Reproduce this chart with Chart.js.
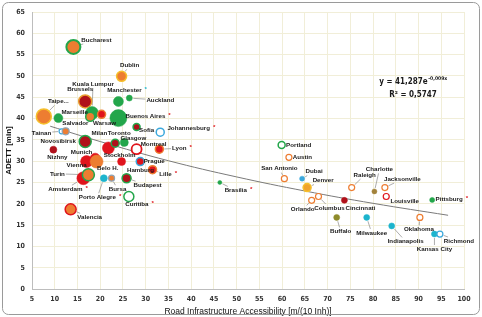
<!DOCTYPE html>
<html>
<head>
<meta charset="utf-8">
<script src="https://cdn.jsdelivr.net/npm/chart.js@4.4.1/dist/chart.umd.min.js"></script>
<style>
  html, body { margin: 0; padding: 0; background: #fff; }
  #wrap { width: 482px; height: 317px; }
</style>
</head>
<body>
<div id="wrap"><canvas id="chart" width="482" height="317"></canvas></div>
<script>
// city bubbles: road accessibility vs ADETT
const cities = ['Bucharest', 'Dublin', 'Brussels', 'Kuala Lumpur', 'Marseille', 'Taipe...', 'Salvador', 'Warsaw',
  'Buenos Aires', 'Manchester', 'Auckland', 'Tainan', '', 'Sofia', 'Johannesburg', 'Novosibirsk', 'Milan',
  'Toronto', 'Glasgow', 'Montreal', 'Lyon', 'Nizhny', 'Munich', 'Belo H.', 'Vienna', 'Stockholm', 'Prague',
  'Hamburg', 'Budapest', 'Porto Alegre', 'Bursa', 'Amsterdam', 'Turin', 'Curitiba', 'Valencia', 'Brasilia',
  'Portland', 'Austin', 'San Antonio', 'Dubai', 'Denver', 'Orlando', 'Columbus', 'Cincinnati', 'Buffalo',
  'Raleigh', 'Charlotte', 'Jacksonville', 'Louisville', 'Pittsburg', 'Milwaukee', 'Indianapolis', 'Oklahoma',
  'Kansas City', 'Richmond'];
const accessibility = [14.1, 24.7, 16.7, 18.2, 17.8, 7.6, 10.8, 20.3,
  24.0, 24.0, 26.4, 11.5, 12.4, 28.0, 33.2, 16.7, 21.8,
  23.3, 25.3, 28.0, 33.0, 9.7, 17.0, 18.9, 19.2, 24.7, 28.8,
  31.5, 25.8, 20.8, 22.5, 16.3, 17.4, 26.3, 13.5, 46.3,
  59.9, 61.5, 60.5, 64.4, 65.5, 66.5, 68.0, 73.7, 72.0,
  75.3, 80.3, 82.6, 82.9, 93.0, 78.6, 84.1, 90.3,
  93.5, 94.7];
const adett = [56.8, 49.9, 44.0, 41.3, 40.4, 40.5, 40.1, 41.0,
  40.1, 44.0, 44.8, 37.0, 37.0, 38.0, 36.8, 34.6, 33.1,
  34.2, 34.4, 32.8, 32.8, 32.7, 29.9, 30.7, 29.9, 29.9, 29.9,
  28.0, 26.0, 26.0, 26.0, 26.0, 26.8, 21.7, 18.7, 25.0,
  33.8, 30.9, 25.9, 25.9, 23.8, 20.8, 21.7, 20.8, 16.8,
  23.8, 22.9, 23.8, 21.7, 20.9, 16.8, 14.8, 16.8,
  12.9, 12.9];
const starred = ['Buenos Aires', 'Johannesburg', 'Lyon', 'Stockholm', 'Lille', 'Amsterdam', 'Porto Alegre',
  'Curitiba', 'Brasilia', 'Pittsburg'];

// exponential trend line
const trendX = [9, 20, 35, 50, 65, 80, 96.5];
const trendY = [38.2, 34.6, 30.1, 26.3, 23.0, 20.1, 17.3];

const xTicks = [5, 10, 15, 20, 25, 30, 35, 40, 45, 50, 55, 60, 65, 70, 75, 80, 85, 90, 95, 100];

const ORANGE = '#ED7D31', GREEN = '#23A64B', DRED = '#B0101A', RED = '#E0141C', TEAL = '#1CB4CD',
  LBLUE = '#3AA8DC', OLIVE = '#8E8B2C', YEL = '#F6C02C', GRAY = '#8EA3B5', WHITE = '#FFFFFF';

const radius = [7, 5, 6.5, 6.5, 4.5, 7.5, 4.5, 4, 8.5, 5, 3, 2.5, 3.5, 3.5, 4, 6, 6, 4, 4, 5, 4, 3.5, 6, 5,
  6.5, 4, 4, 4, 4.5, 3.5, 3, 6.5, 6, 5, 5.5, 2, 3.5, 3, 3, 2.5, 4, 3, 3, 3, 3, 3, 2.5, 3, 3, 2.5, 3, 3, 3, 3, 3];
const fills = [ORANGE, ORANGE, DRED, GREEN, ORANGE, ORANGE, GREEN, RED, GREEN, GREEN, GREEN, WHITE, ORANGE, DRED,
  WHITE, DRED, RED, DRED, GREEN, WHITE, RED, DRED, RED, RED, ORANGE, RED, RED, RED, DRED, TEAL, ORANGE, RED,
  ORANGE, WHITE, ORANGE, GREEN, WHITE, WHITE, WHITE, LBLUE, '#F0A32C', WHITE, WHITE, DRED, OLIVE, WHITE,
  '#A2823A', WHITE, WHITE, GREEN, TEAL, TEAL, WHITE, TEAL, WHITE];
const edges = [GREEN, YEL, '#E89B2E', GREEN, GREEN, YEL, GREEN, ORANGE, GREEN, GREEN, GREEN, LBLUE, GRAY, GREEN,
  LBLUE, GREEN, RED, GREEN, GREEN, RED, ORANGE, DRED, RED, RED, ORANGE, RED, LBLUE, ORANGE, GREEN, TEAL, GRAY, RED,
  GREEN, GREEN, RED, GREEN, GREEN, ORANGE, ORANGE, LBLUE, YEL, ORANGE, ORANGE, DRED, OLIVE, ORANGE,
  '#A2823A', ORANGE, RED, GREEN, TEAL, TEAL, ORANGE, TEAL, LBLUE];
const edgeWidth = [2, 1.5, 1.5, 0.5, 1.5, 1.5, 0.5, 1.5, 0.5, 0.5, 0.5, 1.2, 1.2, 1.5, 1.5, 1.5, 0.5, 1.5, 0.5, 1.8,
  1.5, 0.5, 0.5, 0.5, 0.5, 0.5, 1.5, 1.5, 1.5, 0.5, 1.2, 0.5, 1.5, 1.5, 1.5, 0.5, 1.5, 1.2, 1.2, 0.5, 1.5,
  1.2, 1.2, 0.5, 0.5, 1.2, 0.5, 1.2, 1.2, 0.5, 0.5, 0.5, 1.2, 0.5, 1.2];

// label offsets from each bubble centre [dx, dy, leader line]
const labelSpots = [[23, -7, 1], [8, -11, 1], [-5, -12, 0], [1, -29, 1], [-15.5, -5, 0], [14.5, -15, 1],
  [17, 5, 0], [3, 9, 0], [27, -2, 0], [6, -11, 0], [31, 2, 1], [-20, 1.5, 1], null, [10, 3, 0], [28.5, -4, 0],
  [-27, 0, 0], [-9, -15, 0], [4, -10, 0], [9, -4.5, 0], [17, -5, 0], [20, -1, 1], [4, 8, 0], [-5, -9, 0],
  [12.5, 10, 0], [-20, 4, 0], [-2, -6, 0], [14, 0, 0], [-12, 0.5, 0], [21, 7, 1], [-6.5, 19, 1], [6, 11, 1],
  [-18, 11, 1], [-31, -1, 1], [8, 8, 0], [19, 8, 1], [16, 8, 1], [17, 0, 0], [13.5, 0, 0], [-5, -10, 1],
  [12, -7, 1], [16, -7, 1], [-9, 9, 1], [11, 11.5, 1], [16, 8, 0], [4, 14, 1], [13, -12.5, 1], [5, -22, 1],
  [17.5, -8.5, 1], [18.5, 5, 1], [17, -1, 0], [5, 15.5, 1], [14, 15.5, 1], [-1, 12, 1], [0, 15, 1], [19, 7, 1]];
const extraLabels = [{ at: 27, text: 'Lille', spot: [13, 5, 1] }];

const LABEL_FONT = 'bold 6.2px "Liberation Sans", Arial, sans-serif';
const EQ_FONT = '"Liberation Sans Narrow", "DejaVu Sans Condensed", sans-serif';

function eachLabel(fn) {
  cities.forEach((name, i) => { if (name && labelSpots[i]) fn(i, name, labelSpots[i]); });
  extraLabels.forEach(e => fn(e.at, e.text, e.spot));
}

const cityLabels = {
  id: 'cityLabels',
  beforeDatasetsDraw(chart) {
    const ctx = chart.ctx;
    const pts = chart.getDatasetMeta(1).data;
    ctx.save();
    ctx.font = LABEL_FONT;
    ctx.strokeStyle = '#8a8a8a';
    ctx.lineWidth = 0.7;
    eachLabel((i, text, s) => {
      if (!s[2]) return;
      const p = pts[i];
      const w = ctx.measureText(text).width;
      const cx = p.x + s[0], cy = p.y + s[1];
      const bl = cx - w / 2 - 1, br = cx + w / 2 + 1, bt = cy - 4, bb = cy + 4;
      const dx = cx - p.x, dy = cy - p.y;
      let t = 0;
      if (dx !== 0) t = Math.max(t, ((dx > 0 ? bl : br) - p.x) / dx);
      if (dy !== 0) t = Math.max(t, ((dy > 0 ? bt : bb) - p.y) / dy);
      t = Math.min(t, 1);
      const len = Math.hypot(dx, dy);
      const r0 = (radius[i] + 1) / len;
      if (t <= r0) return;
      ctx.beginPath();
      ctx.moveTo(p.x + dx * r0, p.y + dy * r0);
      ctx.lineTo(p.x + dx * t, p.y + dy * t);
      ctx.stroke();
    });
    ctx.restore();
  },
  afterDatasetsDraw(chart) {
    const ctx = chart.ctx;
    const pts = chart.getDatasetMeta(1).data;
    ctx.save();
    ctx.font = LABEL_FONT;
    ctx.textBaseline = 'middle';
    ctx.textAlign = 'center';
    eachLabel((i, text, s) => {
      const p = pts[i];
      const cx = p.x + s[0], cy = p.y + s[1];
      ctx.fillStyle = '#1a1a1a';
      ctx.fillText(text, cx, cy);
      const star = text === 'Manchester' ? TEAL : (starred.includes(text) ? RED : null);
      if (star) {
        ctx.fillStyle = star;
        ctx.textAlign = 'left';
        ctx.fillText('*', cx + ctx.measureText(text).width / 2 + 3, cy - 1);
        ctx.textAlign = 'center';
      }
    });
    ctx.restore();
  },
  afterDraw(chart) {
    const ctx = chart.ctx;
    ctx.save();
    // trend equation
    ctx.fillStyle = '#1a1a1a';
    ctx.textBaseline = 'middle';
    ctx.font = 'bold 8px ' + EQ_FONT;
    const main = 'y = 41,287e';
    const sup = '-0,009x';
    const mw = ctx.measureText(main).width;
    ctx.font = 'bold 5px ' + EQ_FONT;
    const sw = ctx.measureText(sup).width;
    const x0 = 413 - (mw + sw) / 2;
    ctx.font = 'bold 8px ' + EQ_FONT;
    ctx.textAlign = 'left';
    ctx.fillText(main, x0, 82);
    ctx.font = 'bold 5px ' + EQ_FONT;
    ctx.fillText(sup, x0 + mw + 0.5, 79);
    ctx.font = 'bold 8px ' + EQ_FONT;
    ctx.textAlign = 'center';
    ctx.fillText('R\u00B2 = 0,5747', 413, 95);
    // outer frame
    ctx.strokeStyle = '#9a9a9a';
    ctx.lineWidth = 1;
    ctx.beginPath();
    ctx.roundRect(2.5, 2.5, 477, 312, 6);
    ctx.stroke();
    ctx.restore();
  }
};

const ctx = document.getElementById('chart').getContext('2d');
const chart = new Chart(ctx, {
  data: {
    datasets: [{
      type: 'line',
      label: 'Trend',
      data: trendX.map((x, i) => ({ x, y: trendY[i] })),
      borderColor: '#7a7a7a',
      borderWidth: 1,
      pointRadius: 0,
      tension: 0.4,
      order: 2
    },
    {
      type: 'bubble',
      label: 'Cities',
      data: accessibility.map((x, i) => ({ x, y: adett[i] })),
      radius: (c) => radius[c.dataIndex],
      backgroundColor: fills,
      borderColor: edges,
      borderWidth: edgeWidth,
      order: 1
    }]
  },
  plugins: [cityLabels],
  options: {
    responsive: false,
    devicePixelRatio: 1,
    animation: false,
    events: [],
    layout: { padding: { top: 12, right: 18, left: 0, bottom: 0 } },
    plugins: {
      legend: { display: false },
      tooltip: { enabled: false }
    },
    scales: {
      x: {
        type: 'linear',
        min: 5,
        max: 100,
        afterBuildTicks: (scale) => { scale.ticks = xTicks.map(v => ({ value: v })); },
        afterFit: (scale) => { scale.height = 28; },
        grid: { color: '#f1eed8', lineWidth: 1, drawTicks: false },
        border: { color: '#bdbdbd' },
        ticks: {
          padding: 6,
          maxRotation: 0,
          autoSkip: false,
          color: '#333',
          font: { family: EQ_FONT, size: 7, weight: 'bold' }
        },
        title: {
          display: true,
          text: 'Road Infrastructure Accessibility [m/(10 Inh)]',
          color: '#111',
          padding: 0,
          font: { family: '"Liberation Sans", sans-serif', size: 8.5 }
        }
      },
      y: {
        min: 0,
        max: 65,
        afterFit: (scale) => { scale.width = 32; },
        grid: { color: '#f1eed8', lineWidth: 1, drawTicks: false },
        border: { color: '#bdbdbd' },
        ticks: {
          stepSize: 5,
          padding: 7,
          color: '#333',
          font: { family: EQ_FONT, size: 7, weight: 'bold' }
        },
        title: {
          display: true,
          text: 'ADETT [min]',
          color: '#111',
          padding: { top: 4, bottom: 0 },
          font: { family: '"Liberation Sans", sans-serif', size: 8, weight: 'bold' }
        }
      }
    }
  }
});
</script>
</body>
</html>
